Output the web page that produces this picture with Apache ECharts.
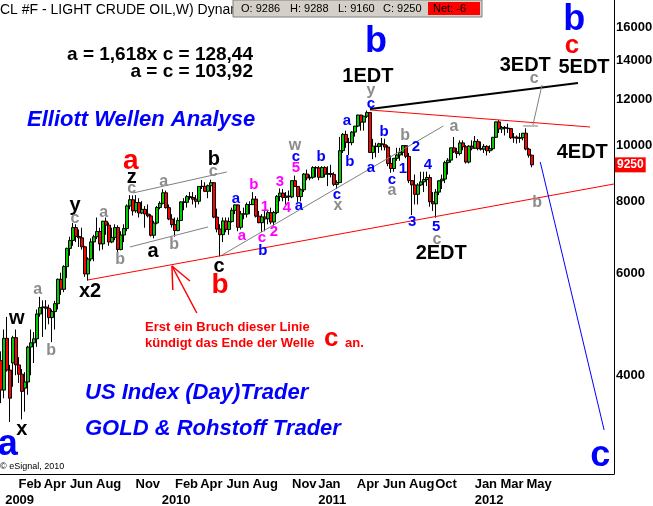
<!DOCTYPE html>
<html><head><meta charset="utf-8">
<script src="https://cdn.jsdelivr.net/npm/echarts@6/dist/echarts.min.js"></script>
<style>html,body{margin:0;padding:0;background:#fff}#c{width:653px;height:506px}</style>
</head><body><div id="c"></div>
<script>
// ---- weekly bars (week start dates) ----
const weeks = [
'2008-12-22','2008-12-29',
'2009-01-05','2009-01-12','2009-01-19','2009-01-26','2009-02-02','2009-02-09','2009-02-16','2009-02-23','2009-03-02','2009-03-09','2009-03-16','2009-03-23','2009-03-30','2009-04-06','2009-04-13','2009-04-20','2009-04-27','2009-05-04','2009-05-11','2009-05-18','2009-05-25','2009-06-01','2009-06-08','2009-06-15','2009-06-22','2009-06-29','2009-07-06','2009-07-13','2009-07-20','2009-07-27','2009-08-03','2009-08-10','2009-08-17','2009-08-24','2009-08-31','2009-09-07','2009-09-14','2009-09-21','2009-09-28','2009-10-05','2009-10-12','2009-10-19','2009-10-26','2009-11-02','2009-11-09','2009-11-16','2009-11-23','2009-11-30','2009-12-07','2009-12-14','2009-12-21','2009-12-28',
'2010-01-04','2010-01-11','2010-01-18','2010-01-25','2010-02-01','2010-02-08','2010-02-15','2010-02-22','2010-03-01','2010-03-08','2010-03-15','2010-03-22','2010-03-29','2010-04-05','2010-04-12','2010-04-19','2010-04-26','2010-05-03','2010-05-10','2010-05-17','2010-05-24','2010-05-31','2010-06-07','2010-06-14','2010-06-21','2010-06-28','2010-07-05','2010-07-12','2010-07-19','2010-07-26','2010-08-02','2010-08-09','2010-08-16','2010-08-23','2010-08-30','2010-09-06','2010-09-13','2010-09-20','2010-09-27','2010-10-04','2010-10-11','2010-10-18','2010-10-25','2010-11-01','2010-11-08','2010-11-15','2010-11-22','2010-11-29','2010-12-06','2010-12-13','2010-12-20','2010-12-27',
'2011-01-03','2011-01-10','2011-01-17','2011-01-24','2011-01-31','2011-02-07','2011-02-14','2011-02-21','2011-02-28','2011-03-07','2011-03-14','2011-03-21','2011-03-28','2011-04-04','2011-04-11','2011-04-18','2011-04-25','2011-05-02','2011-05-09','2011-05-16','2011-05-23','2011-05-30','2011-06-06','2011-06-13','2011-06-20','2011-06-27','2011-07-04','2011-07-11','2011-07-18','2011-07-25','2011-08-01','2011-08-08','2011-08-15','2011-08-22','2011-08-29','2011-09-05','2011-09-12','2011-09-19','2011-09-26','2011-10-03','2011-10-10','2011-10-17','2011-10-24','2011-10-31','2011-11-07','2011-11-14','2011-11-21','2011-11-28','2011-12-05','2011-12-12','2011-12-19','2011-12-26',
'2012-01-02','2012-01-09','2012-01-16','2012-01-23','2012-01-30','2012-02-06','2012-02-13','2012-02-20','2012-02-27','2012-03-05','2012-03-12','2012-03-19','2012-03-26','2012-04-02','2012-04-09','2012-04-16','2012-04-23','2012-04-30','2012-05-07','2012-05-14'
];
const opens = [
4240,3771,4634,4083,4200,4647,4168,4017,3800,3894,
4476,4552,4625,5106,5238,5251,5224,5033,5155,5320,
5863,5634,6167,6631,6844,7204,6955,6916,6673,5989,
6356,6805,6945,7093,6751,7389,7274,6802,6929,7204,
6602,6995,7177,7853,8050,7700,7962,7635,7747,7605,
7547,6987,7336,7805,7936,8275,7800,7454,7289,7119,
7413,7981,7966,8150,8124,8068,8000,8487,8492,8324,
8512,8615,7511,7161,7004,7397,7151,7378,7718,7886,
7214,7609,7601,7898,7895,8070,7539,7346,7517,7460,
7645,7366,7649,8158,8266,8125,8169,8143,8685,8488,
8151,8376,8919,8779,8802,9151,9138,8803,9154,8911,
8934,8903,8558,8620,9788,10442,10116,10107,10540,10794,
11279,10966,11229,11393,9718,9965,9949,10059,10022,9929,
9301,9116,9494,9620,9724,9987,9570,8688,8538,8226,
8537,8645,8724,8796,7985,7920,8298,8680,8740,9332,
9426,9899,9741,9677,10096,9941,9353,9968,9883,10156,
9870,9846,9956,9784,9867,10324,10977,10670,10740,10706,
10687,10302,10331,10283,10305,10493,9849,9613];
const highs = [
4400,4800,5047,4170,4680,4800,4300,4100,4050,4500,
4800,4750,5200,5466,5390,5396,5300,5200,5380,5880,
6020,6200,6650,6948,7338,7300,7150,7200,6700,6400,
6900,7000,7500,7200,7400,7500,7350,7200,7300,7270,
7100,7300,7900,8200,8190,8200,8100,8005,7850,7900,
7600,7400,7850,8000,8395,8350,7900,7600,7500,7500,
8000,8100,8200,8300,8300,8200,8500,8709,8630,8550,
8720,8640,7770,7300,7500,7500,7500,7800,7900,7900,
7700,7800,7960,8000,8297,8170,7700,7600,7700,7700,
7800,7700,8200,8420,8400,8300,8350,8700,8863,8500,
8420,8950,9076,8900,9200,9200,9200,9200,9200,9200,
9250,8980,8700,10341,10500,10600,10300,10580,10800,11300,
11290,11250,11483,11400,10260,10100,10100,10300,10260,10000,
9600,9500,9900,9900,10000,10000,9700,8700,8900,8600,
9000,9000,9000,8900,8300,8400,8700,8900,9400,9500,
9900,10337,9900,10200,10200,10000,10000,10200,10374,10250,
10150,10050,10000,10000,10330,10990,11055,10800,10800,10900,
10700,10500,10400,10500,10500,10700,9900,9630];
const lows = [
3580,3650,4059,3320,3820,4000,3880,3355,3460,3700,
3999,4200,4480,5050,4660,4800,4900,4565,4800,5200,
5510,5570,5890,6440,6700,6800,6670,6600,5920,5832,
6300,6300,6880,6570,6600,7000,6700,6770,6850,6510,
6580,6800,7100,7750,7560,7640,7500,7600,7200,7500,
6950,6900,7300,7750,7900,7770,7420,7206,6950,7100,
7400,7720,7800,8050,7900,7800,7900,8400,8300,8100,
8300,7480,7070,6424,6800,7070,7000,7350,7600,7100,
7150,7450,7500,7600,7880,7500,7330,7076,7100,7300,
7300,7260,7600,8000,8000,7900,8000,8100,8500,7972,
8000,8300,8700,8700,8750,8800,8700,8800,8800,8500,
8800,8500,8400,8600,9700,9900,9620,10000,10350,10750,
10600,10600,11150,9712,9463,9530,9700,9800,9800,9200,
8961,9000,9400,9400,9600,9500,8600,7571,7900,7900,
8500,8300,8500,7830,7700,7495,8200,8400,8600,8900,
9330,9700,9500,9600,9800,9300,9300,9800,9860,9800,
9790,9700,9600,9700,9800,10300,10500,10500,10400,10500,
10250,10100,10070,10100,10200,9800,9520,9160];
const closes = [
3771,4634,4083,3651,4647,4168,4017,3751,3894,4476,
4552,4625,5106,5238,5251,5224,5033,5155,5320,5863,
5634,6167,6631,6844,7204,6955,6916,6673,5989,6356,
6805,6945,7093,6751,7389,7274,6802,6929,7204,6602,
6995,7177,7853,8050,7700,7962,7635,7747,7605,7547,
6987,7336,7805,7936,8275,7800,7454,7289,7119,7413,
7981,7966,8150,8124,8068,8000,8487,8492,8324,8512,
8615,7511,7161,7004,7397,7151,7378,7718,7886,7214,
7609,7601,7898,7895,8070,7539,7346,7517,7460,7645,
7366,7649,8158,8266,8125,8169,8143,8685,8488,8151,
8376,8919,8779,8802,9151,9138,8803,9154,8911,8934,
8903,8558,8620,9788,10442,10116,10107,10540,10794,11279,
10966,11229,11393,9718,9965,9949,10059,10022,9929,9301,
9116,9494,9620,9724,9987,9570,8688,8538,8226,8537,
8645,8724,8796,7985,7920,8298,8680,8740,9332,9426,
9899,9741,9677,10096,9941,9353,9968,9883,10156,9870,
9846,9956,9784,9867,10324,10977,10670,10740,10706,10687,
10302,10331,10283,10305,10493,9849,9613,9250];

// ---- axes ----
const priceTicks = [4000,6000,8000,10000,12000,14000,16000];
const monthTicks = [['2009-02-01','Feb'],['2009-04-01','Apr'],['2009-06-01','Jun'],['2009-08-01','Aug'],['2009-11-01','Nov'],
 ['2010-02-01','Feb'],['2010-04-01','Apr'],['2010-06-01','Jun'],['2010-08-01','Aug'],['2010-11-01','Nov'],
 ['2011-01-01','Jan'],['2011-04-01','Apr'],['2011-06-01','Jun'],['2011-08-01','Aug'],['2011-10-01','Oct'],
 ['2012-01-01','Jan'],['2012-03-01','Mar'],['2012-05-01','May']];
const yearTicks = [['2009-01-01','2009'],['2010-01-01','2010'],['2011-01-01','2011'],['2012-01-01','2012']];
const timeRange = ['2008-12-20','2012-11-21'];
const priceRange = [2699, 17840];
const lastPrice = 9250;

// ---- drawn trend lines: [start, end, colour, width] ----
const trendLines = [
 [['2009-07-13',5847],['2012-11-21',8571],'#ff0000',1],
 [['2011-05-02',11510],['2012-09-26',10756],'#ff0000',1],
 [['2011-05-02',11556],['2012-08-29',12817],'#000000',2.2],
 [['2009-10-26',8269],['2010-06-02',8991],'#808080',1],
 [['2009-10-19',6668],['2010-04-19',7222],'#808080',1],
 [['2010-05-22',6459],['2011-10-20',10799],'#808080',1],
 [['2012-06-06',12715],['2012-05-16',10842],'#808080',1],
 [['2012-04-23',10799],['2012-05-28',10799],'#808080',1],
 [['2012-06-02',9356],['2012-10-29',3216],'#0000ff',1],
 [['2010-03-24',5126],['2010-01-25',6182],'#ff0000',1.5],
 [['2010-01-25',6182],['2010-01-27',5618],'#ff0000',1.5],
 [['2010-01-25',6182],['2010-03-08',5824],'#ff0000',1.5]
];

// ---- wave labels: [date, price, text, style] ----
const waveLabels = [
 ['2011-05-16',15091,'b','blueXL'],['2011-04-27',13179,'1EDT','blackL'],['2011-05-04',12414,'y','gray'],['2011-05-04',11788,'c','blue'],
 ['2012-04-28',13770,'3EDT','blackL'],['2012-09-12',13660,'5EDT','blackL'],['2012-08-20',16474,'b','blueXL'],['2012-08-15',14851,'c','redM'],
 ['2012-05-19',13023,'c','gray'],['2012-09-08',9698,'4EDT','blackL'],['2012-05-26',7946,'b','gray'],['2011-10-15',6485,'2EDT','blackL'],
 ['2011-11-14',10756,'a','gray'],['2011-07-23',10377,'b','gray'],['2011-08-17',9932,'2','blue'],['2011-07-18',9098,'1','blue'],
 ['2011-09-14',9245,'4','blue'],['2011-08-08',7367,'3','blue'],['2011-10-03',7222,'5','blue'],['2011-10-05',6857,'c','gray'],
 ['2011-06-04',10544,'b','blue'],['2011-05-04',9135,'a','blue'],['2011-06-22',8709,'c','blue'],['2011-06-22',8335,'a','gray'],
 ['2011-03-09',11016,'a','blue'],['2011-03-16',9356,'b','blue'],['2011-02-14',8203,'c','blue'],['2011-02-16',7852,'x','gray'],
 ['2011-01-08',9544,'b','blue'],['2010-11-08',9972,'w','gray'],['2010-11-10',9544,'c','blue'],['2010-11-10',9135,'5','magenta'],
 ['2010-10-04',8639,'3','magenta'],['2010-10-20',7789,'4','magenta'],['2010-11-17',7852,'a','blue'],['2010-08-04',8537,'b','magenta'],
 ['2010-08-30',7820,'1','magenta'],['2010-09-20',7079,'2','magenta'],['2010-08-23',6912,'c','magenta'],['2010-08-25',6563,'b','blue'],
 ['2010-07-07',6967,'a','magenta'],['2010-06-23',8074,'a','blue'],['2010-05-03',9468,'b','blackL'],['2010-05-01',8991,'c','gray'],
 ['2010-05-15',6158,'c','blackL'],['2010-05-17',5731,'b','redL'],['2009-10-21',9393,'a','redL'],['2009-10-23',8813,'z','blackL'],
 ['2009-10-23',8401,'c','gray'],['2010-01-06',8639,'a','gray'],['2009-12-12',6537,'a','blackL'],['2010-01-30',6722,'b','gray'],
 ['2009-06-13',7852,'y','blackL'],['2009-06-13',7455,'c','gray'],['2009-08-19',7636,'a','gray'],['2009-09-26',6331,'b','gray'],
 ['2009-07-18',5596,'x2','blackL'],['2009-03-18',5618,'a','gray'],['2009-01-28',5006,'w','blackL'],['2009-04-18',4406,'b','gray'],
 ['2009-02-09',3229,'x','blackL'],['2009-01-07',3030,'a','blueXL'],['2012-10-20',2900,'c','blueXL']
];

const FONT = '"Liberation Sans", Arial, sans-serif';
const labelStyles = {
 blueXL:{color:'#0000ff',fontSize:36,fontWeight:'bold'},
 redL:{color:'#ff0000',fontSize:28,fontWeight:'bold'},
 redM:{color:'#ff0000',fontSize:26,fontWeight:'bold'},
 blackL:{color:'#000000',fontSize:20,fontWeight:'bold'},
 blue:{color:'#0000ff',fontSize:15,fontWeight:'bold'},
 gray:{color:'#8c8c8c',fontSize:16,fontWeight:'bold'},
 magenta:{color:'#ff00ff',fontSize:15,fontWeight:'bold'}
};

function ts(s){const p=s.split('-').map(Number);return new Date(p[0],p[1]-1,p[2]).getTime();}

const candleData = weeks.map((w,i)=>[ts(w),opens[i],closes[i],lows[i],highs[i]]);
const monthMap = {}; monthTicks.forEach(m=>monthMap[ts(m[0])]=m[1]);
const yearMap = {}; yearTicks.forEach(m=>yearMap[ts(m[0])]=m[1]);

const lineSeries = trendLines.map(l=>({
 type:'line', silent:true, symbol:'none', showSymbol:false, z:4, animation:false,
 data:[[ts(l[0][0]),l[0][1]],[ts(l[1][0]),l[1][1]]],
 lineStyle:{color:l[2],width:l[3]}
}));

const labelSeries = {
 type:'scatter', silent:true, z:6, symbol:'circle', symbolSize:1, itemStyle:{color:'rgba(0,0,0,0)',opacity:1},
 data: waveLabels.map(a=>({value:[ts(a[0]),a[1]],
   label:Object.assign({show:true,position:'inside',formatter:a[2],fontFamily:FONT,opacity:1,textBorderWidth:0},labelStyles[a[3]])}))
};

const axisLabelBase = {color:'#000',fontWeight:'bold',fontSize:13,fontFamily:FONT};

const chart = echarts.init(document.getElementById('c'),null,{renderer:'canvas'});
chart.setOption({
 animation:false,
 backgroundColor:'#ffffff',
 textStyle:{fontFamily:FONT},
 grid:{left:0,right:39,top:0,bottom:32,containLabel:false,outerBoundsMode:'none'},
 xAxis:[
  {type:'value',min:ts(timeRange[0]),max:ts(timeRange[1]),scale:true,
   axisLine:{show:true,lineStyle:{color:'#000',width:1}},axisTick:{show:false},splitLine:{show:false},
   axisLabel:Object.assign({customValues:monthTicks.map(m=>ts(m[0])),formatter:v=>monthMap[v]||'',align:'left',margin:4},axisLabelBase)},
  {type:'value',min:ts(timeRange[0]),max:ts(timeRange[1]),scale:true,position:'bottom',offset:16,
   axisLine:{show:false},axisTick:{show:false},splitLine:{show:false},
   axisLabel:Object.assign({customValues:yearTicks.map(m=>ts(m[0])),formatter:v=>yearMap[v]||'',align:'left',margin:4},axisLabelBase)}
 ],
 yAxis:{type:'log',logBase:10,position:'right',min:priceRange[0],max:priceRange[1],
   axisLine:{show:true,lineStyle:{color:'#000',width:1}},axisTick:{show:false},splitLine:{show:false},
   axisLabel:Object.assign({customValues:priceTicks,formatter:v=>String(Math.round(v)),align:'left',margin:2},axisLabelBase)},
 series:[
  {type:'candlestick',data:candleData,barWidth:3,z:3,
   itemStyle:{color:'#00cc00',color0:'#ff0000',borderColor:'#000',borderColor0:'#000',borderWidth:1},
   markLine:{silent:true,symbol:'none',animation:false,
     data:[{yAxis:lastPrice}],
     lineStyle:{width:0,color:'rgba(0,0,0,0)'},
     label:{show:true,position:'end',distance:1,formatter:String(lastPrice),backgroundColor:'#ff0000',color:'#ffffff',
       fontWeight:'bold',fontSize:12,fontFamily:FONT,padding:[2,2,1,2]}}
  }
 ].concat(lineSeries,[labelSeries]),
 graphic:[
  {type:'text',x:0,y:10,style:{text:'CL #F - LIGHT CRUDE OIL,W) Dynamic',font:'14px '+FONT,fill:'#000',textVerticalAlign:'middle'}},
  {type:'rect',shape:{x:233,y:0,width:249,height:17},style:{fill:'#d4d0c8',stroke:'#808080',lineWidth:1}},
  {type:'text',x:241,y:9,style:{text:'O: 9286',font:'11px '+FONT,fill:'#000',textVerticalAlign:'middle'}},
  {type:'text',x:290,y:9,style:{text:'H: 9288',font:'11px '+FONT,fill:'#000',textVerticalAlign:'middle'}},
  {type:'text',x:338,y:9,style:{text:'L: 9160',font:'11px '+FONT,fill:'#000',textVerticalAlign:'middle'}},
  {type:'text',x:383,y:9,style:{text:'C: 9250',font:'11px '+FONT,fill:'#000',textVerticalAlign:'middle'}},
  {type:'rect',shape:{x:428,y:2,width:52,height:13},style:{fill:'#ff0000'}},
  {type:'text',x:433,y:9,style:{text:'Net: -6',font:'11px '+FONT,fill:'#000',textVerticalAlign:'middle'}},
  {type:'text',x:253,y:55,style:{text:'a = 1,618x c = 128,44',font:'bold 19px '+FONT,fill:'#000',textAlign:'right',textVerticalAlign:'middle'}},
  {type:'text',x:253,y:72,style:{text:'a = c = 103,92',font:'bold 19px '+FONT,fill:'#000',textAlign:'right',textVerticalAlign:'middle'}},
  {type:'text',x:27,y:120,style:{text:'Elliott Wellen Analyse',font:'italic bold 22px '+FONT,fill:'#0000ff',textVerticalAlign:'middle'}},
  {type:'text',x:85,y:393,style:{text:'US Index (Day)Trader',font:'italic bold 22px '+FONT,fill:'#0000ff',textVerticalAlign:'middle'}},
  {type:'text',x:85,y:429,style:{text:'GOLD & Rohstoff Trader',font:'italic bold 22px '+FONT,fill:'#0000ff',textVerticalAlign:'middle'}},
  {type:'text',x:145,y:327,style:{text:'Erst ein Bruch dieser Linie',font:'bold 13px '+FONT,fill:'#ff0000',textVerticalAlign:'middle'}},
  {type:'text',x:145,y:343,style:{text:'kündigt das Ende der Welle',font:'bold 13px '+FONT,fill:'#ff0000',textVerticalAlign:'middle'}},
  {type:'text',x:324,y:339,style:{text:'c',font:'bold 26px '+FONT,fill:'#ff0000',textVerticalAlign:'middle'}},
  {type:'text',x:345,y:343,style:{text:'an.',font:'bold 13px '+FONT,fill:'#ff0000',textVerticalAlign:'middle'}},
  {type:'text',x:0,y:467,style:{text:'© eSignal, 2010',font:'9px '+FONT,fill:'#000',textVerticalAlign:'middle'}}
 ]
});
</script>
</body></html>
